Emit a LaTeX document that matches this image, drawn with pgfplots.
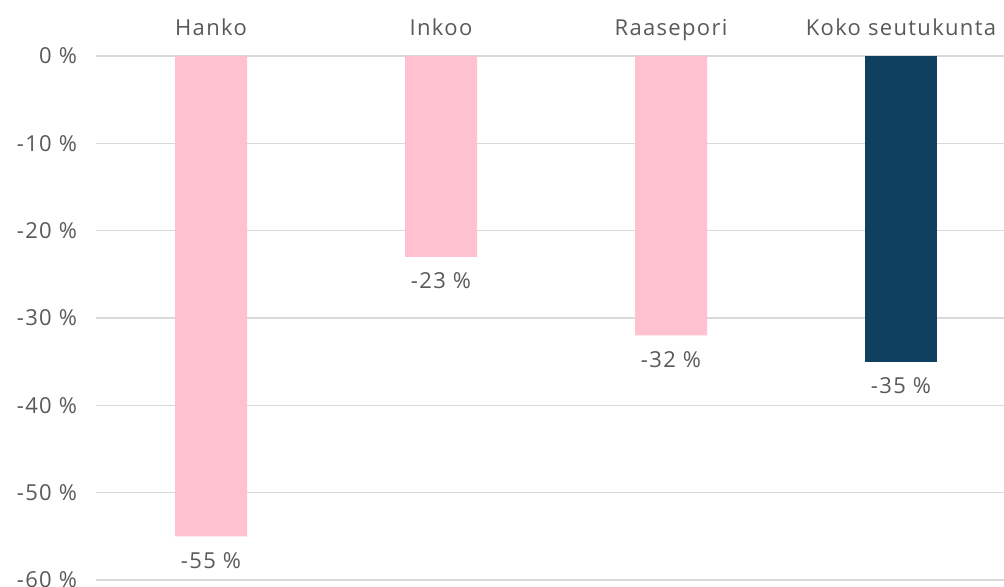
\documentclass[border=0pt]{standalone}
\usepackage{pgfplots}
\pgfplotsset{compat=1.18}
\usetikzlibrary{calc}
\usepackage{fontspec}
\setmainfont[LetterSpace=6]{Open Sans}
\definecolor{pinkbar}{HTML}{FFC0CF}
\definecolor{navybar}{HTML}{10405F}
\definecolor{txt}{HTML}{595959}
\definecolor{gridc}{HTML}{D9D9D9}
\begin{document}
\begin{tikzpicture}
\begin{axis}[
  scale only axis,
  width=460pt, height=262pt,
  xmin=-0.5, xmax=3.5,
  ymin=-60, ymax=0,
  axis line style={draw=none},
  xtick={0,1,2,3},
  xticklabels={Hanko,Inkoo,Raasepori,Koko seutukunta},
  xticklabel pos=upper,
  ytick={-60,-50,-40,-30,-20,-10,0},
  yticklabels={-60 \%,-50 \%,-40 \%,-30 \%,-20 \%,-10 \%,0 \%},
  major tick length=0pt,
  ymajorgrids,
  grid style={gridc, line width=0.6pt},
  tick label style={font=\fontsize{11}{13}\selectfont, text=txt},
  yticklabel style={xshift=-6pt},
  xticklabel style={anchor=base, yshift=10pt},
  ybar, bar width=36pt,
  nodes near coords={\pgfmathprintnumber[assume math mode=true]{\pgfplotspointmeta}~\%},
  every node near coord/.append style={font=\fontsize{11}{13}\selectfont, text=txt, anchor=north, yshift=-4.5pt},
  clip=false,
]
\coordinate (bl) at (rel axis cs:0,0);
\coordinate (tr) at (rel axis cs:1,1);
\addplot[fill=pinkbar, draw=none, bar shift=0pt] coordinates {(0,-55) (1,-23) (2,-32)};
\addplot[fill=navybar, draw=none, bar shift=0pt] coordinates {(3,-35)};
\end{axis}
\pgfresetboundingbox
\path[use as bounding box] ($(bl)+(-48pt,-3.5pt)$) rectangle ($(tr)+(-6pt,28pt)$);
\end{tikzpicture}
\end{document}
